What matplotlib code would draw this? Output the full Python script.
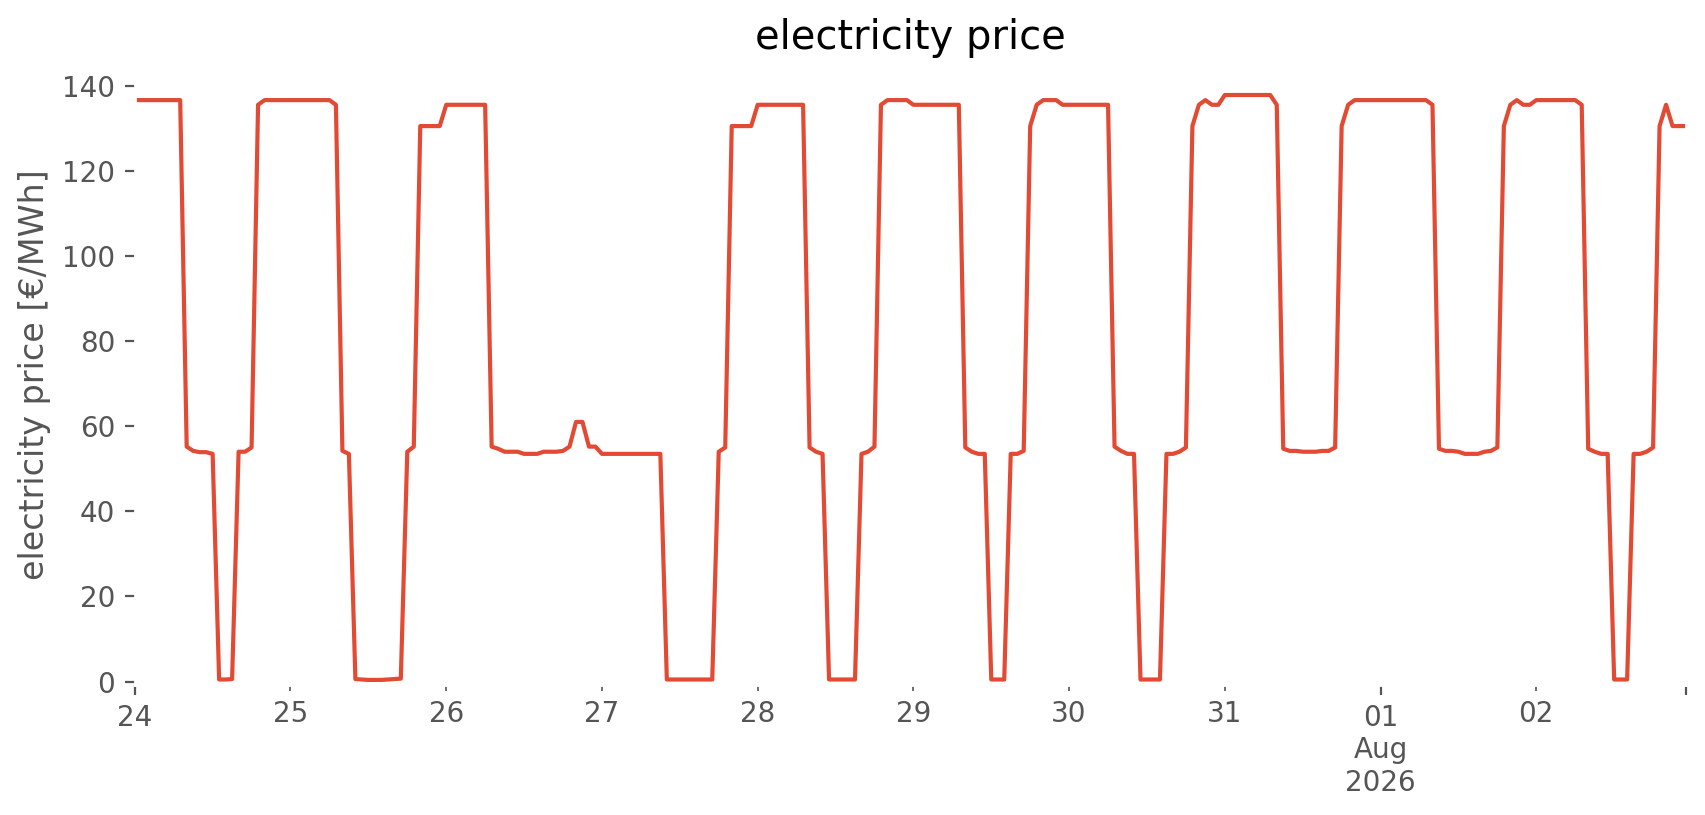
import numpy as np
import pandas as pd
import matplotlib
matplotlib.use("Agg")
import matplotlib.pyplot as plt
import matplotlib.dates as mdates

# hourly electricity prices [€/MWh], one list per day
jul24 = [136.6]*8 + [55.2, 54.2, 53.9, 53.9, 53.5] + [0.5, 0.5, 0.6] + [54.0, 54.0, 55.0] + [135.5] + [136.6]*4
jul25 = [136.6]*7 + [135.5] + [54.2, 53.5] + [0.6, 0.5, 0.4, 0.4, 0.4, 0.5, 0.6, 0.7] + [54.0, 55.2] + [130.5]*4
jul26 = [135.5]*7 + [55.2, 54.7, 54.0, 54.0, 54.0, 53.5, 53.5, 53.5, 54.0, 54.0, 54.0, 54.2, 55.2, 61.0, 61.0, 55.2, 55.2]
jul27 = [53.5]*10 + [0.5]*8 + [54.0, 55.0] + [130.5]*4
jul28 = [135.5]*8 + [55.0, 54.0, 53.5] + [0.5]*5 + [53.5, 54.0, 55.2] + [135.5] + [136.6]*4
jul29 = [135.5]*8 + [55.0, 54.0, 53.5, 53.5] + [0.5]*3 + [53.5, 53.5, 54.2] + [130.5, 135.5] + [136.6]*3 + [135.5]
jul30 = [135.5]*7 + [55.2, 54.2, 53.5, 53.5] + [0.5]*4 + [53.5, 53.5, 54.0, 55.0] + [130.5, 135.5, 136.6, 135.5, 135.5]
jul31 = [137.8]*8 + [135.5] + [54.7, 54.2, 54.2, 54.0, 54.0, 54.0, 54.2, 54.2, 55.0] + [130.5, 135.5] + [136.6]*4
aug01 = [136.6]*8 + [135.5] + [54.7, 54.2, 54.2, 54.0, 53.5, 53.5, 53.5, 54.0, 54.2, 55.0] + [130.5, 135.5, 136.6, 135.5, 135.5]
aug02 = [136.6]*7 + [135.5] + [54.7, 54.0, 53.5, 53.5] + [0.5]*3 + [53.5, 53.5, 54.0, 55.0] + [130.5, 135.5, 130.5, 130.5, 130.5]

prices = jul24 + jul25 + jul26 + jul27 + jul28 + jul29 + jul30 + jul31 + aug01 + aug02
times = pd.date_range("2026-07-24 00:00", periods=len(prices), freq="h")

minor_days = ["2026-07-25", "2026-07-26", "2026-07-27", "2026-07-28", "2026-07-29",
              "2026-07-30", "2026-07-31", "2026-08-02"]
minor_labels = ["25", "26", "27", "28", "29", "30", "31", "02"]
major_days = ["2026-07-24", "2026-08-01"]
major_labels = ["24", "01\nAug\n2026", ""]

plt.style.use("ggplot")
fig = plt.figure(figsize=(8.53, 4.075), dpi=200)
ax = fig.add_subplot(111)
fig.subplots_adjust(left=0.079, right=0.988, bottom=0.16, top=0.92)
ax.set_facecolor("white")
ax.grid(False)

ax.plot(times.to_pydatetime(), prices, color="#E24A33", linewidth=1.5)

ax.set_xlim(times[0], times[-1])
ax.set_ylim(-0.7, 144.8)
ax.set_yticks([0, 20, 40, 60, 80, 100, 120, 140])

major_pos = [mdates.date2num(pd.Timestamp(d)) for d in major_days] + [mdates.date2num(times[-1])]
minor_pos = [mdates.date2num(pd.Timestamp(d)) for d in minor_days]
ax.set_xticks(major_pos)
ax.set_xticklabels(major_labels)
ax.set_xticks(minor_pos, minor=True)
ax.set_xticklabels(minor_labels, minor=True)
ax.tick_params(axis="x", which="both", colors="#555555", labelsize=10)
ax.tick_params(axis="x", which="minor", length=2)

ax.set_title("electricity price", fontsize=14.4)
ax.set_ylabel("electricity price [€/MWh]", fontsize=12, color="#555555")

fig.savefig("out.png", dpi=200, facecolor="white")
